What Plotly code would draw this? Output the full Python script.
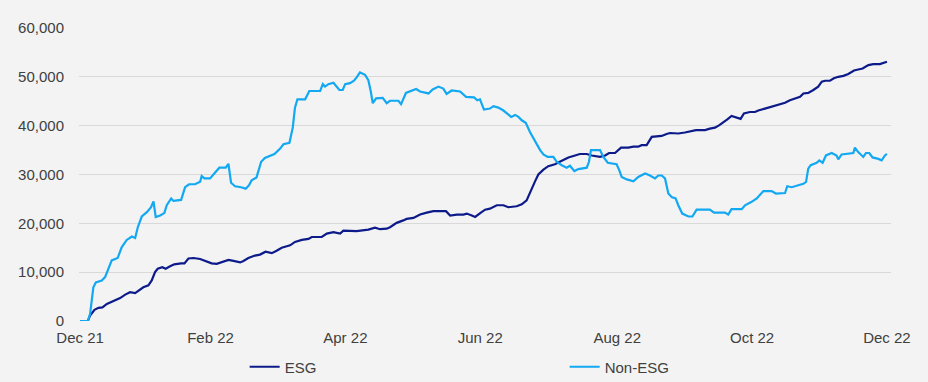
import pandas as pd
import plotly.graph_objects as go

# ---- data (days after 31 Dec 2021, value) ----
esg_days = [0, 3.5, 4.5, 6.5, 8.3, 10.1, 12.1, 14.3, 16.6, 18.1, 20.4, 22.6, 24.9, 26.4, 28.6, 30.9, 32.4, 33.9, 35.1, 37.2,
            38.7, 40.7, 42.6, 45.7, 47.2, 49.0, 51.3, 54.3, 56.5, 59.5, 61.8, 64.1, 67.1, 69.4, 72.4, 73.9, 76.1, 79.1, 81.4, 83.9,
            86.7, 88.9, 91.2, 92.7,
            95.0, 97.2, 100.3, 103.3, 104.8, 109.3, 111.6, 114.6, 117.6, 119.1, 122.9, 125.1, 130.4, 133.4, 135.7, 138.7, 140.2, 143.2, 146.2, 147.7,
            150.8, 153.8, 156.8, 159.8, 162.8, 165.5, 167.4, 170.4, 173.4, 174.9, 177.2, 178.7, 181.0, 183.2, 185.4,
            188.5, 191.5, 193.7, 197.5, 199.8, 202.0, 203.5, 205.8, 207.3, 209.6, 211.8, 214.8, 217.9, 220.9, 223.9, 226.1, 229.2, 231.4, 235.2, 237.5,
            239.3, 242.0, 244.7, 248.0, 250.3, 252.5, 254.0, 256.3, 258.6, 263.1, 265.3, 266.9, 270.6, 273.6,
            278.6, 282.7, 284.9, 287.2, 289.2, 291.0, 292.8, 294.7, 297.0, 298.8, 300.3, 303.0, 305.3, 306.8, 309.8, 312.8, 315.9, 318.9, 321.1, 323.8,
            325.7, 327.2, 329.4, 331.7, 333.9, 335.5, 337.0, 339.2, 341.0, 343.0, 345.3, 347.5, 350.1, 352.0, 354.0, 356.6, 358.8, 361.8, 363.3, 365.0]
esg_values = [0, 0, 1100, 2300, 2700, 2800, 3500, 4000, 4500, 4700, 5400, 5900, 5700, 6200, 6900, 7300, 8300, 10000, 10700, 11000,
              10700, 11200, 11600, 11800, 11800, 12800, 12900, 12700, 12300, 11800, 11700, 12100, 12500, 12300, 12000, 12300, 12900, 13400, 13600, 14200,
              13900, 14400, 15000, 15200,
              15500, 16200, 16600, 16800, 17200, 17200, 17900, 18200, 17900, 18500, 18500, 18400, 18700, 19100, 18800, 18900, 19200, 20100, 20600, 20900,
              21100, 21800, 22200, 22500, 22500, 22500, 21600, 21800, 21800, 22000, 21600, 21300, 22100, 22800, 23000,
              23700, 23700, 23300, 23500, 23900, 24700, 26400, 28600, 30000, 31000, 31700, 32100, 32800, 33500, 33900, 34200, 34200, 33900, 33600, 33900,
              34400, 34400, 35500, 35500, 35700, 35700, 36000, 36000, 37700, 37900, 38300, 38500, 38400, 38600,
              39100, 39100, 39400, 39600, 40100, 40800, 41300, 42000, 41700, 41400, 42500, 42800, 42800, 43100, 43500, 43900, 44400, 44700, 45200, 45600,
              45900, 46600, 46700, 47300, 48000, 49000, 49200, 49200, 49700, 50000, 50200, 50600, 51300, 51500, 51700, 52400, 52600, 52600, 52900, 53100]

non_esg_days = [0, 3.5, 4.5, 6.0, 7.1, 9.8, 11.3, 12.8, 14.3, 17.0, 18.8, 21.1, 23.4, 24.9, 26.1, 27.9, 30.2, 32.1, 33.2, 34.2,
                36.2, 38.1, 39.2, 41.2, 42.2, 45.7, 47.5, 49.3, 52.0, 54.3, 55.0, 56.2, 58.8, 61.1, 63.0, 65.9, 67.1, 68.3, 70.1, 72.8,
                74.9, 76.4, 77.6, 79.8, 81.9, 83.6, 85.9, 87.9, 90.5,
                92.0, 94.7, 96.2, 97.2, 98.3, 101.8, 103.7, 108.6, 109.8, 110.8, 112.3, 114.6, 115.8, 117.3, 118.8, 119.9, 122.1, 123.9, 125.1, 126.6,
                128.9, 130.4, 131.5, 132.4, 133.9, 136.9, 138.7, 140.2, 144.0, 145.2, 147.4, 150.0, 152.0, 153.8, 157.6, 159.5, 162.1, 164.3, 165.8, 168.1,
                171.9, 174.6, 178.2, 179.7, 180.9, 182.7,
                185.4, 187.0, 189.2, 191.5, 193.7, 195.0, 196.8, 198.3, 199.8, 201.6, 203.5, 205.8, 208.1, 209.6, 211.5, 214.1, 215.6, 217.9, 220.1, 221.6,
                223.6, 225.4, 229.2, 230.2, 231.1, 235.2, 236.7, 238.7, 242.7, 243.8, 245.0, 247.3, 250.3, 252.5, 255.6, 257.8, 260.1, 261.6, 263.1, 264.6,
                266.1, 267.6, 269.4, 270.6, 272.4, 275.2, 277.0,
                278.9, 284.9, 286.8, 291.7, 293.2, 294.7, 299.3, 300.8, 303.8, 306.1, 309.1, 312.8, 314.8, 318.9, 319.9, 321.9, 324.9, 327.2, 328.4, 329.4,
                330.5, 333.2, 334.4, 335.9, 337.4, 340.0, 342.2, 343.0, 344.5, 347.5, 349.8, 350.5, 352.0, 354.3, 355.5, 357.0, 358.5, 361.1, 362.6, 364.1,
                365.0]
non_esg_values = [0, 0, 1400, 6900, 7900, 8300, 9000, 10700, 12400, 12900, 15100, 16600, 17300, 17000, 19200, 21400, 22300, 23300, 24500, 21300,
                  21600, 22100, 23700, 25100, 24600, 24800, 27400, 28000, 28000, 28500, 29700, 29200, 29200, 30400, 31400, 31400, 32200, 28300, 27600, 27400,
                  27100, 27800, 28800, 29400, 32600, 33400, 33900, 34200, 35300,
                  36200, 36500, 39600, 43700, 45400, 45400, 47100, 47100, 48500, 48000, 48500, 48800, 48100, 47300, 47300, 48500, 48700, 49200, 49900, 50900,
                  50400, 49300, 47000, 44600, 45600, 45700, 44600, 45100, 45100, 44400, 46700, 47200, 47500, 47000, 46600, 47400, 48000, 47600, 46500, 47200,
                  47000, 45900, 45800, 45200, 45400, 43300,
                  43500, 44000, 43700, 43100, 42400, 41800, 42200, 41800, 41100, 40600, 38700, 36700, 35000, 34100, 33600, 33600, 32600, 31900, 31400, 31800,
                  30700, 31100, 31400, 32600, 35000, 35000, 33600, 32400, 32100, 31000, 29500, 29000, 28600, 29500, 30200, 29800, 29200, 29800, 29800, 29200,
                  26100, 25400, 25100, 23700, 22000, 21400, 21400,
                  22800, 22800, 22200, 22200, 21800, 22900, 22900, 23700, 24400, 25100, 26600, 26600, 26100, 26200, 27600, 27400, 27800, 28100, 28500, 31200,
                  31900, 32400, 32900, 32400, 33900, 34400, 33900, 33100, 34100, 34200, 34400, 35500, 34600, 33600, 34400, 34400, 33500, 33200, 32900, 33900,
                  34200]

tick_dates = ["2021-12-31", "2022-02-28", "2022-04-30", "2022-06-30", "2022-08-31", "2022-10-31", "2022-12-31"]
tick_labels = ["Dec 21", "Feb 22", "Apr 22", "Jun 22", "Aug 22", "Oct 22", "Dec 22"]
y_ticks = [0, 10000, 20000, 30000, 40000, 50000, 60000]

base = pd.Timestamp("2021-12-31")
esg_x = base + pd.to_timedelta(esg_days, unit="D")
non_x = base + pd.to_timedelta(non_esg_days, unit="D")

FONT = "Liberation Sans, Arial, sans-serif"
TXT = "#404040"
BG = "#f3f3f3"

fig = go.Figure()
fig.add_trace(go.Scatter(x=esg_x, y=esg_values, mode="lines", name="ESG",
                         line=dict(color="#0c1a8a", width=2.2)))
fig.add_trace(go.Scatter(x=non_x, y=non_esg_values, mode="lines", name="Non-ESG",
                         line=dict(color="#12a8f2", width=2.2)))

fig.update_layout(
    width=928, height=382,
    margin=dict(l=79, r=37, t=28, b=61, autoexpand=False),
    paper_bgcolor=BG, plot_bgcolor=BG,
    font=dict(family=FONT, size=15, color=TXT),
    showlegend=True,
    legend=dict(orientation="h", x=0.204, xanchor="left", y=-0.157, yanchor="middle",
                entrywidth=275, entrywidthmode="pixels", bgcolor="rgba(0,0,0,0)",
                font=dict(family=FONT, size=15, color=TXT), traceorder="normal"),
    xaxis=dict(type="date", range=["2021-12-30 12:00", "2023-01-01 20:00"],
               tickmode="array", tickvals=tick_dates, ticktext=tick_labels,
               showgrid=False, zeroline=False, showline=False, ticks="",
               ticklabelstandoff=6, tickfont=dict(family=FONT, size=15, color=TXT)),
    yaxis=dict(range=[0, 60000], tickmode="array", tickvals=y_ticks, tickformat=",",
               showgrid=True, gridcolor="#d9d9d9", gridwidth=1, zeroline=False, showline=False,
               ticks="", ticklabelstandoff=14, tickfont=dict(family=FONT, size=15, color=TXT)),
)

fig.write_html("out.html", config={"displayModeBar": False},
               post_script="document.body.style.margin='0';document.body.style.background='%s';" % BG)
